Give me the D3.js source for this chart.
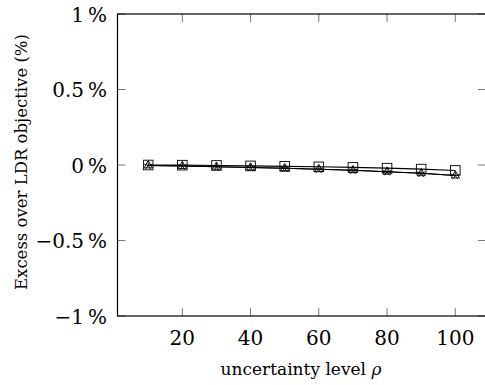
<!DOCTYPE html>
<html>
<head>
<meta charset="utf-8">
<script src="https://cdn.jsdelivr.net/npm/d3@7/dist/d3.min.js"></script>
<style>
  html, body { margin: 0; padding: 0; background: #fff; }
  svg { display: block; }
</style>
</head>
<body>
<svg id="chart" width="485" height="385"></svg>
<script>
// ---- data ----
const rho = [10, 20, 30, 40, 50, 60, 70, 80, 90, 100];
const seriesSquare   = [0.000, -0.001, -0.003, -0.006, -0.009, -0.012, -0.016, -0.021, -0.027, -0.036];
const seriesTriangle = [-0.003, -0.007, -0.012, -0.017, -0.022, -0.028, -0.035, -0.045, -0.055, -0.070];
const seriesStar     = [-0.003, -0.007, -0.012, -0.017, -0.022, -0.028, -0.035, -0.045, -0.055, -0.070];
const xTicks = [20, 40, 60, 80, 100];
const yTicks = [-1, -0.5, 0, 0.5, 1];
const yTickLabels = ["\u22121\u2009%", "\u22120.5\u2009%", "0\u2009%", "0.5\u2009%", "1\u2009%"];
const xLabel = "uncertainty level ";
const yLabel = "Excess over LDR objective (%)";

const FONT = "'DejaVu Serif', 'Liberation Serif', serif";

// ---- layout ----
const svg = d3.select("#chart");
const L = 117.5, R = 486, T = 14, B = 316;
const x = d3.scaleLinear().domain([1, 109]).range([L, R]);
const y = d3.scaleLinear().domain([-1, 1]).range([B, T]);
const tickLen = 8;

// ticks (inward on all four sides)
const tg = svg.append("g").attr("stroke", "#555").attr("stroke-width", 0.8);
xTicks.forEach(v => {
  tg.append("line").attr("x1", x(v)).attr("x2", x(v)).attr("y1", B).attr("y2", B - tickLen);
  tg.append("line").attr("x1", x(v)).attr("x2", x(v)).attr("y1", T).attr("y2", T + tickLen);
});
yTicks.forEach(v => {
  tg.append("line").attr("x1", L).attr("x2", L + tickLen).attr("y1", y(v)).attr("y2", y(v));
  tg.append("line").attr("x1", R).attr("x2", R - tickLen).attr("y1", y(v)).attr("y2", y(v));
});

// axis frame
svg.append("rect").attr("x", L).attr("y", T).attr("width", R - L).attr("height", B - T)
  .attr("fill", "none").attr("stroke", "#000").attr("stroke-width", 1.2);

// tick labels
svg.append("g").selectAll("text").data(xTicks).join("text")
  .attr("x", d => x(d)).attr("y", 345)
  .attr("text-anchor", "middle").attr("font-size", 20).style("font-family", FONT)
  .text(d => d);
svg.append("g").selectAll("text").data(yTicks).join("text")
  .attr("x", 107).attr("y", d => y(d) + 7.5)
  .attr("text-anchor", "end").attr("font-size", 20).style("font-family", FONT)
  .text((d, i) => yTickLabels[i]);

// axis labels
const xl = svg.append("text").attr("x", 301).attr("y", 375)
  .attr("text-anchor", "middle").attr("font-size", 17).style("font-family", FONT).text(xLabel);
xl.append("tspan").attr("font-style", "italic").text("\u03C1");
svg.append("text").attr("transform", "translate(27,162) rotate(-90)")
  .attr("text-anchor", "middle").attr("font-size", 16.5).style("font-family", FONT).text(yLabel);

// lines
const line = d3.line().x((d, i) => x(rho[i])).y(d => y(d));
const allSeries = [seriesSquare, seriesTriangle, seriesStar];
allSeries.forEach(s => {
  svg.append("path").datum(s).attr("d", line)
    .attr("fill", "none").attr("stroke", "#000").attr("stroke-width", 1.1);
});

// markers
const mk = svg.append("g").attr("fill", "none").attr("stroke", "#000").attr("stroke-width", 0.9);
const sq = 4.8;
seriesSquare.forEach((v, i) => {
  mk.append("rect").attr("x", x(rho[i]) - sq).attr("y", y(v) - sq)
    .attr("width", 2 * sq).attr("height", 2 * sq);
});
const tr = 4.8;
seriesTriangle.forEach((v, i) => {
  const cx = x(rho[i]), cy = y(v);
  mk.append("path").attr("d",
    `M${cx},${cy - tr} L${cx + tr * 0.866},${cy + tr * 0.5} L${cx - tr * 0.866},${cy + tr * 0.5} Z`);
});
const st = 4.4;
seriesStar.forEach((v, i) => {
  const cx = x(rho[i]), cy = y(v);
  let d = "";
  for (let k = 0; k < 5; k++) {
    const a = -Math.PI / 2 + k * 2 * Math.PI / 5;
    d += `M${cx},${cy} L${cx + st * Math.cos(a)},${cy + st * Math.sin(a)} `;
  }
  mk.append("path").attr("d", d);
});
</script>
</body>
</html>
